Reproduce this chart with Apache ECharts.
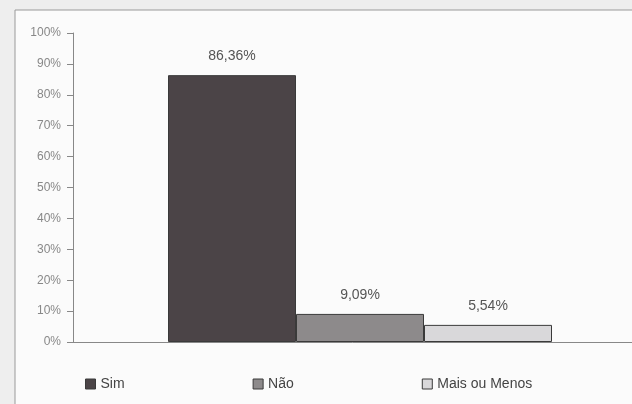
<!DOCTYPE html>
<html>
<head>
<meta charset="utf-8">
<script src="https://cdn.jsdelivr.net/npm/echarts@6/dist/echarts.min.js"></script>
<style>
  html, body { margin: 0; padding: 0; background: #eeeeee; }
  #chart { width: 632px; height: 404px; }
</style>
</head>
<body>
<div id="chart"></div>
<script>
// dados
const categorias = ['']
const respostas = ['Sim', 'Não', 'Mais ou Menos']
const valores = [86.36, 9.09, 5.54]
const cores = ['#4b4447', '#8d8a8b', '#d9d8da']
const yTicks = [0, 100, 10]

const myChart = echarts.init(document.getElementById('chart'))

const series = respostas.map((nome, i) => {
  return {
    name: nome,
    type: 'bar',
    barGap: '0%',
    barWidth: 128,
    data: [valores[i]],
    itemStyle: {
      color: cores[i],
      borderColor: '#3a3a3a',
      borderWidth: 1
    },
    label: {
      show: true,
      position: 'top',
      distance: 12,
      color: '#555',
      fontFamily: 'Liberation Sans',
      fontSize: 14,
      formatter: (p) => p.value.toFixed(2).replace('.', ',') + '%'
    }
  }
})

const option = {
  animation: false,
  backgroundColor: '#eeeeee',
  graphic: [{
    type: 'rect',
    z: -10,
    shape: { x: 15, y: 10, width: 700, height: 500 },
    style: { fill: '#fbfbfb', stroke: '#9a9a9a', lineWidth: 1 }
  }],
  grid: { left: 73, width: 574, top: 33, bottom: 62, outerBoundsMode: 'none' },
  legend: {
    data: respostas,
    left: 80,
    top: 372,
    itemWidth: 10,
    itemHeight: 10,
    itemGap: 128,
    icon: 'rect',
    textStyle: { color: '#444', fontFamily: 'Liberation Sans', fontSize: 14 },
    itemStyle: { borderColor: '#3a3a3a', borderWidth: 1 }
  },
  xAxis: {
    type: 'category',
    data: categorias,
    axisTick: { show: false },
    axisLabel: { show: false },
    axisLine: { lineStyle: { color: '#888' } }
  },
  yAxis: {
    type: 'value',
    min: yTicks[0],
    max: yTicks[1],
    interval: yTicks[2],
    axisLine: { show: true, lineStyle: { color: '#888' } },
    axisTick: { show: true, length: 6, lineStyle: { color: '#888' } },
    splitLine: { show: false },
    axisLabel: {
      formatter: '{value}%',
      color: '#888',
      fontFamily: 'Liberation Sans',
      fontSize: 12,
      margin: 12
    }
  },
  series: series
}

myChart.setOption(option)
</script>
</body>
</html>
